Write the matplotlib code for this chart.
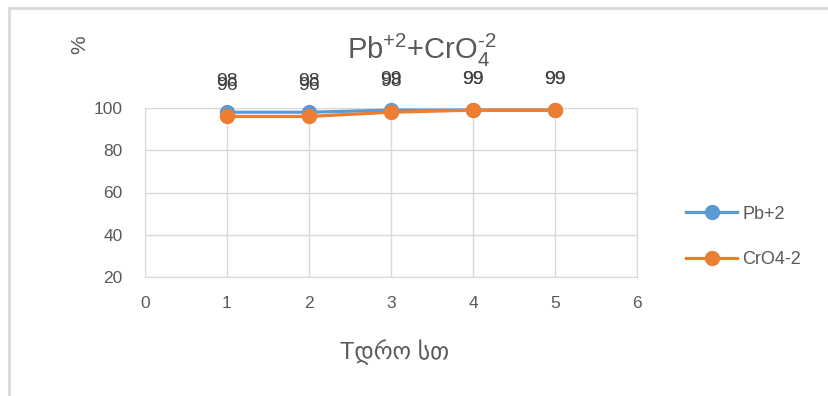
import matplotlib.pyplot as plt
from matplotlib.patches import Rectangle

plt.rcParams['font.family'] = ['Liberation Sans', 'DejaVu Sans']
plt.rcParams['mathtext.fontset'] = 'custom'
plt.rcParams['mathtext.rm'] = 'Liberation Sans'
plt.rcParams['mathtext.it'] = 'Liberation Sans'

hours = [1, 2, 3, 4, 5]
pb = [98, 98, 99, 99, 99]
cro4 = [96, 96, 98, 99, 99]
series_names = ['Pb+2', 'CrO4-2']

blue = '#5B9BD5'
orange = '#ED7D31'
grey_txt = '#595959'

fig = plt.figure(figsize=(8.29, 3.96), dpi=100)
# chart frame
fig.patches.append(Rectangle((9 / 829, -0.1), 1.0, (396 - 8) / 396 + 0.1,
                             transform=fig.transFigure, fill=False,
                             edgecolor='#d9d9d9', linewidth=2))

ax = fig.add_axes([145 / 829, (396 - 277) / 396, 492 / 829, 169 / 396])
for ys, col, name in [(pb, blue, series_names[0]), (cro4, orange, series_names[1])]:
    ax.plot(hours, ys, color=col, lw=2.3, marker='o', ms=10, label=name,
            clip_on=False, zorder=3)
    for x, y in zip(hours, ys):
        ax.annotate(str(y), (x, y), xytext=(0, 22), textcoords='offset points',
                    ha='center', va='center', fontsize=14, color='#404040',
                    annotation_clip=False)

ax.set_xlim(0, 6)
ax.set_ylim(20, 100)
ax.set_xticks(range(0, 7))
ax.set_yticks(range(20, 101, 20))
ax.grid(True, color='#d9d9d9', lw=1)
ax.set_axisbelow(True)
for s in ax.spines.values():
    s.set_color('#d9d9d9')
ax.tick_params(length=0, labelsize=12.5, labelcolor=grey_txt)
ax.tick_params(axis='x', pad=14)
ax.tick_params(axis='y', pad=16)

fig.text(422 / 829, 1 - 50 / 396, r'Pb$^{+2}$+CrO$_{4}^{\text{-2}}$', ha='center',
         va='center', fontsize=21, color=grey_txt)
fig.text(80 / 829, 1 - 45 / 396, '%', rotation=90, ha='center', va='center',
         fontsize=15, color=grey_txt)
fig.text(395 / 829, 1 - 352 / 396, 'Tდრო სთ', ha='center', va='center',
         fontsize=17, color=grey_txt)

fig.legend(loc='center left', bbox_to_anchor=(670 / 829, 1 - 237 / 396),
           frameon=False, fontsize=13, labelspacing=1.6, handlelength=2.8,
           handletextpad=0.3, labelcolor=grey_txt)

fig.savefig('out.png', dpi=100)
